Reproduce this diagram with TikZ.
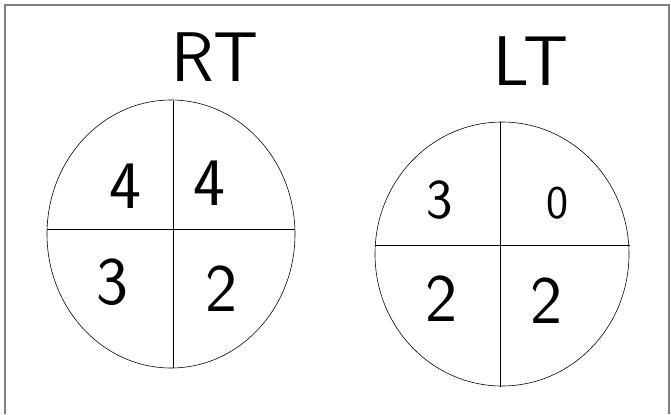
\documentclass[tikz,border=0pt]{standalone}
\usepackage{fontspec}
\usepackage{tikz}
\tikzset{every picture/.append style={font=\sffamily}}
\definecolor{framegray}{HTML}{808080}
\tikzset{
  score/.style={inner sep=0pt,font=\sffamily\fontsize{58}{60}\selectfont},
  side/.style={inner sep=0pt,font=\sffamily\fontsize{60}{62}\selectfont},
  split/.style={line width=0.8pt}
}

\begin{document}
\begin{tikzpicture}[x=0.03cm,y=-0.03cm,line width=0.5pt]
    \useasboundingbox (0,0) rectangle (671,414);
    \draw[framegray,line width=1.2pt] (5,414) -- (5,5) -- (669,5) -- (669,414);
    % right side
    \node[side] (rtlabel) at (215,57) {RT};
    \draw (171,234) ellipse [x radius=124,y radius=134];
    \draw[split] (47,229) -- (295,229);
    \draw[split] (173,101) -- (173,368);
    \node[score] (rtul) at (125,186) {4};
    \node[score] (rtur) at (209,183) {4};
    \node[score] (rtll) at (112,282) {3};
    \node[score] (rtlr) at (221,289) {2};
    % left side
    \node[side] (ltlabel) at (531,61) {LT};
    \draw (502,254) ellipse [x radius=127,y radius=132];
    \draw[split] (375,245) -- (630,245);
    \draw[split] (500,122) -- (500,387);
    \node[score,font=\sffamily\fontsize{48}{50}\selectfont] (ltul) at (440,200) {3};
    \node[score,font=\sffamily\fontsize{40}{42}\selectfont] (ltur) at (558,203) {0};
    \node[score] (ltll) at (441,299) {2};
    \node[score] (ltlr) at (546,301) {2};
  \end{tikzpicture}
\end{document}
